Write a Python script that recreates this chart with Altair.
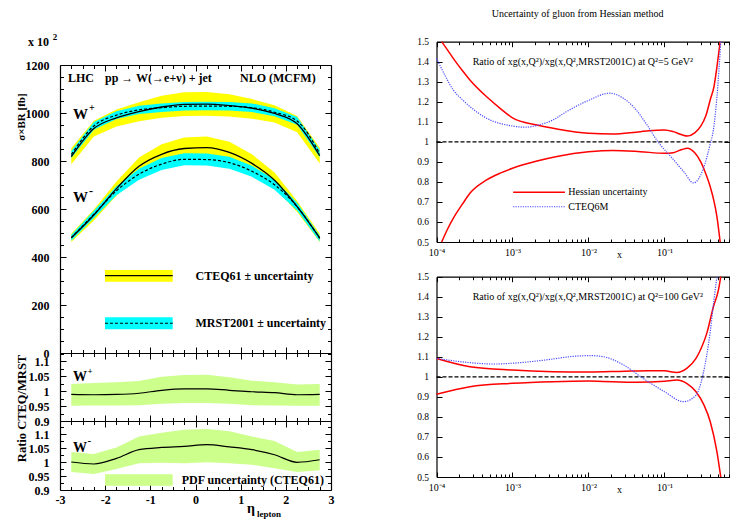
import altair as alt
import pandas as pd

# ---------------- data: left, W + jet cross section vs eta_lepton ----------------
ETA = [-2.75, -2.25, -1.75, -1.25, -0.75, -0.25, 0.25, 0.75, 1.25, 1.75, 2.25, 2.75]

WP_CTEQ = [818, 935, 980, 1006, 1025, 1036, 1037, 1031, 1020, 998, 955, 822]
WP_CTEQ_HI = [853, 968, 1015, 1045, 1072, 1086, 1087, 1078, 1058, 1032, 988, 855]
WP_CTEQ_LO = [786, 902, 944, 966, 980, 988, 989, 985, 976, 960, 920, 790]
WP_MRST = [827, 946, 991, 1013, 1022, 1028, 1029, 1028, 1022, 1003, 967, 831]
WP_MRST_HI = [842, 962, 1007, 1030, 1040, 1046, 1047, 1046, 1040, 1020, 983, 846]
WP_MRST_LO = [812, 930, 975, 996, 1004, 1010, 1011, 1010, 1004, 986, 951, 816]

WM_CTEQ = [480, 575, 685, 778, 828, 852, 856, 836, 790, 720, 610, 480]
WM_CTEQ_HI = [497, 598, 715, 815, 870, 898, 902, 880, 828, 752, 633, 497]
WM_CTEQ_LO = [463, 552, 655, 742, 790, 808, 806, 792, 752, 688, 588, 463]
WM_MRST = [480, 578, 676, 745, 787, 807, 806, 793, 757, 701, 610, 477]
WM_MRST_HI = [492, 593, 695, 768, 812, 832, 831, 818, 780, 722, 626, 489]
WM_MRST_LO = [468, 563, 657, 722, 762, 782, 781, 768, 734, 680, 594, 465]

# ratio CTEQ/MRST with CTEQ61 PDF uncertainty
RP = [0.989, 0.988, 0.989, 0.993, 1.003, 1.008, 1.008, 1.003, 0.998, 0.995, 0.988, 0.989]
RP_HI = [1.024, 1.027, 1.030, 1.034, 1.048, 1.054, 1.055, 1.047, 1.035, 1.030, 1.022, 1.024]
RP_LO = [0.951, 0.952, 0.952, 0.953, 0.958, 0.960, 0.960, 0.958, 0.953, 0.952, 0.951, 0.951]
RM = [1.000, 0.993, 1.013, 1.044, 1.052, 1.056, 1.062, 1.054, 1.044, 1.026, 0.999, 1.008]
RM_HI = [1.036, 1.029, 1.052, 1.091, 1.105, 1.115, 1.118, 1.110, 1.091, 1.075, 1.036, 1.044]
RM_LO = [0.964, 0.957, 0.975, 0.996, 0.997, 0.996, 0.999, 0.996, 0.990, 0.978, 0.964, 0.971]

# ---------------- data: right, gluon ratio to MRST2001C ----------------
Q5_HU_X = [1.17e-4, 1.4e-4, 1.66e-4, 2.2e-4, 2.75e-4, 4.57e-4, 7e-4, 1e-3, 2.1e-3, 4e-3, 1e-2,
           2.1e-2, 4.8e-2, 0.1, 0.13, 0.17, 0.2, 0.25, 0.3, 0.35, 0.4, 0.45, 0.49, 0.54]
Q5_HU_Y = [1.5, 1.458, 1.417, 1.355, 1.309, 1.225, 1.165, 1.12, 1.084, 1.063, 1.043,
           1.039, 1.051, 1.059, 1.051, 1.035, 1.029, 1.045, 1.078, 1.13, 1.21, 1.28, 1.375, 1.5]
Q5_HL_X = Q5_HU_X
Q5_HL_Y = [0.5, 0.565, 0.618, 0.69, 0.743, 0.81, 0.845, 0.868, 0.904, 0.928, 0.950,
           0.957, 0.951, 0.943, 0.946, 0.962, 0.968, 0.945, 0.90, 0.84, 0.776, 0.70, 0.626, 0.5]
Q5_C6_X = [1e-4, 1.3e-4, 1.66e-4, 2.2e-4, 2.75e-4, 4.57e-4, 1e-3, 1.5e-3, 2.1e-3, 3.4e-3, 5.1e-3,
           1e-2, 1.9e-2, 2.8e-2, 3.9e-2, 5.9e-2, 7.9e-2, 0.13, 0.18, 0.24, 0.32, 0.4, 0.44, 0.49, 0.55]
Q5_C6_Y = [1.417, 1.33, 1.259, 1.21, 1.176, 1.118, 1.079, 1.073, 1.082, 1.109, 1.15,
           1.207, 1.243, 1.22, 1.175, 1.084, 1.009, 0.913, 0.85, 0.795, 0.86, 0.99, 1.059, 1.225, 1.5]

Q100_HU_X = [1e-4, 2.75e-4, 1e-3, 3.4e-3, 1e-2, 3e-2, 6e-2, 0.1, 0.145, 0.2, 0.26, 0.31, 0.36, 0.44, 0.51, 0.55]
Q100_HU_Y = [1.092, 1.051, 1.034, 1.026, 1.024, 1.028, 1.030, 1.030, 1.022, 1.045, 1.092, 1.15, 1.217, 1.35, 1.43, 1.5]
Q100_HL_X = [1e-4, 2.75e-4, 1e-3, 3.4e-3, 1e-2, 1.55e-2, 4.3e-2, 0.1, 0.145, 0.2, 0.26, 0.33, 0.4, 0.49, 0.55]
Q100_HL_Y = [0.913, 0.951, 0.968, 0.976, 0.979, 0.977, 0.973, 0.978, 0.984, 0.965, 0.926, 0.86, 0.776, 0.626, 0.5]
Q100_C6_X = [1e-4, 2.75e-4, 5.6e-4, 1e-3, 3.4e-3, 5.75e-3, 1.05e-2, 1.55e-2, 2.9e-2, 5.2e-2, 0.1,
             0.178, 0.26, 0.32, 0.4, 0.45, 0.49]
Q100_C6_Y = [1.092, 1.071, 1.064, 1.068, 1.089, 1.101, 1.106, 1.101, 1.059, 0.993, 0.926,
             0.876, 0.909, 1.009, 1.226, 1.392, 1.5]
UNITY = [1.0, 1.0]

# ---------------- tick labels ----------------
MAIN_Y_LABELS = [0, 200, 400, 600, 800, 1000, 1200]
RATIO_Y_LABELS = [0.9, 0.95, 1.0, 1.05, 1.1]
ETA_LABELS = [-3, -2, -1, 0, 1, 2, 3]
GLU_Y_LABELS = [0.5, 0.6, 0.7, 0.8, 0.9, 1.0, 1.1, 1.2, 1.3, 1.4, 1.5]
GLU_X_LABELS = [1e-4, 1e-3, 1e-2, 1e-1]

# ---------------- layout ----------------
W, H = 722, 511
XMAX = 0.7167
PANELS = {
    "main": dict(log=False, xd=[-3, 3], xr=[52, 323], yd=[0, 1200], yr=[345, 57]),
    "r1": dict(log=False, xd=[-3, 3], xr=[52, 323], yd=[0.9, 1.128], yr=[413, 345]),
    "r2": dict(log=False, xd=[-3, 3], xr=[52, 323], yd=[0.9, 1.1466], yr=[482, 413]),
    "q5": dict(log=True, xd=[1e-4, XMAX], xr=[428.5, 721.5], yd=[0.5, 1.5], yr=[234, 33.7]),
    "q100": dict(log=True, xd=[1e-4, XMAX], xr=[428.5, 721.5], yd=[0.5, 1.5], yr=[469, 268.7]),
}
SERIF = "Liberation Serif"
DW = 1.2
YELLOW, CYAN, GREEN = "#ffff00", "#00ffff", "#ccff8c"
RED, BLUE = "#ff0000", "#4a4aff"
TMAJ, TMIN = 6, 3.5          # inward tick lengths, left panels
TGX, TGXM, TGY = 5, 3, 5.5   # inward tick lengths, right panels

ETA_MAJOR = [-2, -1, 0, 1, 2]
ETA_MINOR = [i / 4 for i in range(-11, 12) if i % 4 != 0]
MAIN_Y_MINOR = [v for v in range(50, 1200, 50) if v % 200 != 0]
RATIO_Y_MINOR = [0.925, 0.975, 1.025, 1.075, 1.125]
GLU_X_MINOR = [m * 10.0 ** e for e in (-4, -3, -2, -1) for m in range(2, 10) if m * 10.0 ** e < XMAX]


def xscale(p):
    P = PANELS[p]
    if P["log"]:
        return alt.Scale(type="log", domain=P["xd"], range=P["xr"], nice=False)
    return alt.Scale(domain=P["xd"], range=P["xr"], nice=False, zero=False)


def yscale(p):
    P = PANELS[p]
    return alt.Scale(domain=P["yd"], range=P["yr"], nice=False, zero=False)


def span(r):
    return abs(r[1] - r[0])


def dash(L, t):
    return [t, L - 2 * t, t, 5000]


def ax_xtop(p, vals, t, domain=True):
    P = PANELS[p]
    return alt.Axis(orient="top", offset=-min(P["yr"]), values=vals, labels=False,
                    ticks=False, tickSize=0, domain=domain, domainColor="black",
                    domainWidth=DW, grid=True, gridColor="black", gridOpacity=1,
                    gridWidth=1, gridDash=dash(span(P["yr"]), t), title=None)


def ax_yleft(p, vals, t, domain=True, lab=None):
    P = PANELS[p]
    kw = dict(orient="left", offset=-min(P["xr"]), values=vals, ticks=False, tickSize=0,
              domain=domain, domainColor="black", domainWidth=DW, grid=True,
              gridColor="black", gridOpacity=1, gridWidth=1,
              gridDash=dash(span(P["xr"]), t), title=None, labels=lab is not None)
    if lab:
        kw.update(lab)
    return alt.Axis(**kw)


def ax_xbottom(p, vals=None, lab=None):
    P = PANELS[p]
    kw = dict(orient="bottom", offset=max(P["yr"]) - H, ticks=False, tickSize=0,
              grid=False, domain=True, domainColor="black", domainWidth=DW,
              title=None, labels=lab is not None)
    if vals:
        kw["values"] = vals
    if lab:
        kw.update(lab)
    return alt.Axis(**kw)


def ax_yright(p):
    P = PANELS[p]
    return alt.Axis(orient="right", offset=max(P["xr"]) - W, ticks=False, tickSize=0,
                    grid=False, labels=False, domain=True, domainColor="black",
                    domainWidth=DW, title=None)


LAB_L = dict(labelFont=SERIF, labelFontWeight="bold", labelFontSize=12, labelColor="black",
             labelPadding=11, labelExpr="'' + datum.value", labelFlush=False, labelOverlap=False)
LAB_ETA = dict(LAB_L, labelPadding=4)
LAB_RY = dict(labelFont=SERIF, labelFontSize=9.5, labelColor="black", labelPadding=8,
              labelExpr="'' + datum.value", labelFlush=False, labelOverlap=False)
LAB_RX = dict(labelFont=SERIF, labelFontSize=10, labelColor="black", labelPadding=5,
              labelExpr="datum.value < 0.0005 ? '10⁻⁴' : datum.value < 0.005 ? '10⁻³' : "
                        "datum.value < 0.05 ? '10⁻²' : '10⁻¹'",
              labelFlush=False, labelOverlap=False)


def band(p, xs, lo, hi, color, xax=None, yax=None):
    df = pd.DataFrame({"x": xs, "lo": lo, "hi": hi})
    return alt.Chart(df).mark_area(color=color, opacity=1, interpolate="linear").encode(
        x=alt.X("x:Q", scale=xscale(p), axis=xax),
        y=alt.Y("lo:Q", scale=yscale(p), axis=yax),
        y2=alt.Y2("hi:Q"))


def curve(p, xs, ys, color, width, sdash=None, interp="monotone", xax=None, yax=None):
    df = pd.DataFrame({"x": xs, "y": ys})
    kw = dict(color=color, strokeWidth=width, interpolate=interp)
    if sdash:
        kw["strokeDash"] = sdash
    return alt.Chart(df).mark_line(**kw).encode(
        x=alt.X("x:Q", scale=xscale(p), axis=xax),
        y=alt.Y("y:Q", scale=yscale(p), axis=yax))


def texts(p, rows, weight="bold", angle=0, align="left", xax=None, yax=None):
    df = pd.DataFrame(rows, columns=["x", "y", "t", "s"])
    kw = dict(font=SERIF, fontWeight=weight, align=align, baseline="middle", color="black")
    if angle:
        kw["angle"] = angle
    return alt.Chart(df).mark_text(**kw).encode(
        x=alt.X("x:Q", scale=xscale(p), axis=xax),
        y=alt.Y("y:Q", scale=yscale(p), axis=yax),
        text="t:N", size=alt.Size("s:Q", scale=None))


def key_boxes(p, rows, xax=None, yax=None):
    df = pd.DataFrame(rows, columns=["x", "x2", "y", "y2", "c"])
    return alt.Chart(df).mark_rect().encode(
        x=alt.X("x:Q", scale=xscale(p), axis=xax), x2="x2:Q",
        y=alt.Y("y:Q", scale=yscale(p), axis=yax), y2="y2:Q",
        color=alt.Color("c:N", scale=None))


def key_line(p, x1, x2, y, color, width, sdash=None):
    df = pd.DataFrame({"x": [x1], "x2": [x2], "y": [y]})
    kw = dict(color=color, strokeWidth=width)
    if sdash:
        kw["strokeDash"] = sdash
    return alt.Chart(df).mark_rule(**kw).encode(
        x=alt.X("x:Q", scale=xscale(p), axis=None), x2="x2:Q",
        y=alt.Y("y:Q", scale=yscale(p), axis=None))


# ---------------- annotations (data coordinates) ----------------
MAIN_TEXT = [
    (-2.823, 1146, "LHC", 12),
    (-2.004, 1146, "pp → W(→e+ν) + jet", 12),
    (0.985, 1146, "NLO (MCFM)", 12),
    (-2.712, 995, "W", 15),
    (-2.36, 1022, "+", 10),
    (-2.712, 648, "W", 15),
    (-2.36, 676, "-", 12),
    (0.0, 321, "CTEQ61 ± uncertainty", 12),
    (0.0, 124, "MRST2001 ± uncertainty", 12),
    (-3.708, 1294, "x 10", 12),
    (-3.162, 1315, "2", 9),
]
MAIN_KEYS = [(-2.004, -0.505, 297, 346, YELLOW), (-2.004, -0.505, 99, 149, CYAN)]
R1_TEXT = [(-2.712, 1.046, "W", 14), (-2.39, 1.066, "+", 9)]
R2_TEXT = [(-2.712, 1.050, "W", 14), (-2.39, 1.075, "-", 11),
           (-0.306, 0.9357, "PDF uncertainty (CTEQ61)", 12),
           (1.14, 0.832, "η", 14), (1.361, 0.814, "lepton", 9)]
R2_KEYS = [(-2.004, -0.505, 0.9154, 0.9561, GREEN)]
Q5_TEXT = [(2.99e-4, 1.399, "Ratio of xg(x,Q²)/xg(x,Q²,MRST2001C) at Q²=5 GeV²", 10),
           (5.42e-3, 0.748, "Hessian uncertainty", 10),
           (5.42e-3, 0.676, "CTEQ6M", 10),
           (0.0237, 0.435, "x", 10),
           (5.32e-4, 1.640, "Uncertainty of gluon from Hessian method", 10)]
Q100_TEXT = [(2.99e-4, 1.400, "Ratio of xg(x,Q²)/xg(x,Q²,MRST2001C) at Q²=100 GeV²", 10),
             (0.0237, 0.435, "x", 10)]

layers = []

# main panel
layers += [
    band("main", ETA, WP_CTEQ_LO, WP_CTEQ_HI, YELLOW,
         xax=ax_xtop("main", ETA_MAJOR, TMAJ), yax=ax_yleft("main", MAIN_Y_LABELS, TMAJ, lab=LAB_L)),
    band("main", ETA, WM_CTEQ_LO, WM_CTEQ_HI, YELLOW,
         xax=ax_xbottom("main"), yax=ax_yright("main")),
    band("main", ETA, WP_MRST_LO, WP_MRST_HI, CYAN,
         xax=ax_xtop("main", ETA_MINOR, TMIN, domain=False),
         yax=ax_yleft("main", MAIN_Y_MINOR, TMIN, domain=False)),
    band("main", ETA, WM_MRST_LO, WM_MRST_HI, CYAN),
    curve("main", ETA, WP_CTEQ, "black", 1.3),
    curve("main", ETA, WM_CTEQ, "black", 1.3),
    curve("main", ETA, WP_MRST, "black", 1.2, sdash=[3, 2]),
    curve("main", ETA, WM_MRST, "black", 1.2, sdash=[3, 2]),
    key_boxes("main", MAIN_KEYS),
    key_line("main", -2.004, -0.505, 322, "black", 1.3),
    key_line("main", -2.004, -0.505, 124, "black", 1.2, sdash=[3, 2]),
    texts("main", MAIN_TEXT),
    texts("main", [(-3.841, 983, "σ×BR [fb]", 11)], angle=270, align="center"),
]

# ratio panel W+
layers += [
    band("r1", ETA, RP_LO, RP_HI, GREEN,
         xax=ax_xtop("r1", ETA_MAJOR, TMAJ), yax=ax_yleft("r1", RATIO_Y_LABELS, TMAJ, lab=LAB_L)),
    curve("r1", ETA, RP, "black", 1.2, xax=ax_xbottom("r1"), yax=ax_yright("r1")),
    texts("r1", R1_TEXT, xax=ax_xtop("r1", ETA_MINOR, TMIN, domain=False),
          yax=ax_yleft("r1", RATIO_Y_MINOR, TMIN, domain=False)),
    texts("r1", [(-3.841, 0.942, "Ratio CTEQ/MRST", 12.5)], angle=270, align="center"),
]

# ratio panel W-
layers += [
    band("r2", ETA, RM_LO, RM_HI, GREEN,
         xax=ax_xtop("r2", ETA_MAJOR, TMAJ), yax=ax_yleft("r2", RATIO_Y_LABELS, TMAJ, lab=LAB_L)),
    curve("r2", ETA, RM, "black", 1.2, xax=ax_xbottom("r2", ETA_LABELS, LAB_ETA),
          yax=ax_yright("r2")),
    key_boxes("r2", R2_KEYS, xax=ax_xtop("r2", ETA_MINOR, TMIN, domain=False),
              yax=ax_yleft("r2", RATIO_Y_MINOR, TMIN, domain=False)),
    texts("r2", R2_TEXT),
]

# gluon panels
for p, hu, hl, c6, txt in [
    ("q5", (Q5_HU_X, Q5_HU_Y), (Q5_HL_X, Q5_HL_Y), (Q5_C6_X, Q5_C6_Y), Q5_TEXT),
    ("q100", (Q100_HU_X, Q100_HU_Y), (Q100_HL_X, Q100_HL_Y), (Q100_C6_X, Q100_C6_Y), Q100_TEXT),
]:
    layers += [
        curve(p, [1e-4, XMAX], UNITY, "black", 1.2, sdash=[4, 2], interp="linear",
              xax=ax_xtop(p, GLU_X_LABELS, TGX), yax=ax_yleft(p, GLU_Y_LABELS, TGY, lab=LAB_RY)),
        curve(p, hu[0], hu[1], RED, 1.5, xax=ax_xbottom(p, GLU_X_LABELS, LAB_RX),
              yax=ax_yright(p)),
        curve(p, hl[0], hl[1], RED, 1.5, xax=ax_xtop(p, GLU_X_MINOR, TGXM, domain=False)),
        curve(p, c6[0], c6[1], BLUE, 1.2, sdash=[1.2, 1.2]),
        texts(p, txt, weight="normal"),
    ]
    if p == "q5":
        layers += [
            key_line(p, 1.02e-3, 4.9e-3, 0.748, RED, 1.5),
            key_line(p, 1.02e-3, 4.9e-3, 0.676, BLUE, 1.2, sdash=[1.2, 1.2]),
        ]

chart = alt.layer(*layers).resolve_scale(
    x="independent", y="independent"
).properties(
    width=W, height=H, autosize=alt.AutoSizeParams(type="none"), padding=0
).configure_view(strokeWidth=0)

chart.save("out.html", embed_options={"renderer": "svg", "actions": False})
